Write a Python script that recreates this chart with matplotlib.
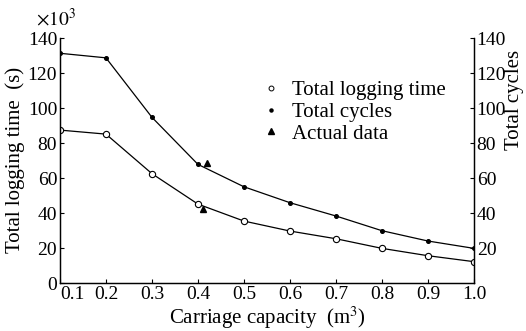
import matplotlib
matplotlib.use('Agg')
import matplotlib.pyplot as plt
from matplotlib.lines import Line2D

plt.rcParams['font.family'] = ['Liberation Serif', 'DejaVu Serif']
plt.rcParams['mathtext.fontset'] = 'stix'

capacity = [0.1, 0.2, 0.3, 0.4, 0.5, 0.6, 0.7, 0.8, 0.9, 1.0]
logging_time = [87.4, 85.1, 62.5, 45.1, 35.4, 29.7, 25.3, 19.8, 15.6, 12.2]  # x10^3 s
total_cycles = [131.3, 128.7, 94.7, 67.8, 55.0, 45.9, 38.3, 29.9, 24.0, 19.8]

actual_x = [0.41, 0.42]
actual_y = [42.1, 68.8]

x_ticks = [0.1, 0.2, 0.3, 0.4, 0.5, 0.6, 0.7, 0.8, 0.9, 1.0]
y_ticks = [0, 20, 40, 60, 80, 100, 120, 140]
y2_ticks = [20, 40, 60, 80, 100, 120, 140]

fig = plt.figure(figsize=(5.26, 3.31), dpi=100)
ax = fig.add_axes([0.114, 0.145, 0.787, 0.74])
ax2 = ax.twinx()

tick_fs = 14
lab_fs = 15
ax.plot(capacity, logging_time, color='black', lw=0.9, marker='o', ms=4.5,
        mfc='white', mec='black', mew=0.8)
ax2.plot(capacity, total_cycles, color='black', lw=0.9, marker='o', ms=2.6,
         mfc='black', mec='black')
ax.plot(actual_x, actual_y, linestyle='none', marker='^', ms=5, color='black')

ax.set_xlim(0.1, 1.0)
ax.set_ylim(0, 140)
ax2.set_ylim(0, 140)
ax.set_xticks(x_ticks)
ax.set_xticklabels([f'{v:.1f}' for v in x_ticks])
ax.get_xticklabels()[0].set_horizontalalignment('left')
ax.set_yticks(y_ticks)
ax2.set_yticks(y2_ticks)

for a in (ax, ax2):
    a.tick_params(direction='in', labelsize=tick_fs, length=3, width=0.8, pad=2)
    for s in a.spines.values():
        s.set_linewidth(0.9)
ax.spines['top'].set_visible(False)
ax2.spines['top'].set_visible(False)

ax.set_xlabel('Carriage capacity  (m$^3$)', fontsize=lab_fs, labelpad=1)
# y labels placed by their centres, as in the scan
fig.text(15 / 526, 1 - 160 / 331, 'Total logging time  (s)', fontsize=lab_fs,
         rotation=90, ha='center', va='center')
fig.text(515 / 526, 1 - 100 / 331, 'Total cycles', fontsize=lab_fs,
         rotation=90, ha='center', va='center')
ax.text(-0.01, 1.035, r'$\times10^3$', transform=ax.transAxes, fontsize=tick_fs,
        ha='center', va='bottom')

handles = [
    Line2D([], [], linestyle='none', marker='o', ms=3.5, mfc='white', mec='black', mew=0.7),
    Line2D([], [], linestyle='none', marker='o', ms=2.2, color='black'),
    Line2D([], [], linestyle='none', marker='^', ms=4, color='black'),
]
ax.legend(handles, ['Total logging time', 'Total cycles', 'Actual data'],
          loc='upper left', bbox_to_anchor=(0.47, 0.86), frameon=False,
          fontsize=lab_fs, handlelength=0.8, handletextpad=0.6, labelspacing=0.1,
          borderaxespad=0)

fig.savefig('out.png', dpi=100)
